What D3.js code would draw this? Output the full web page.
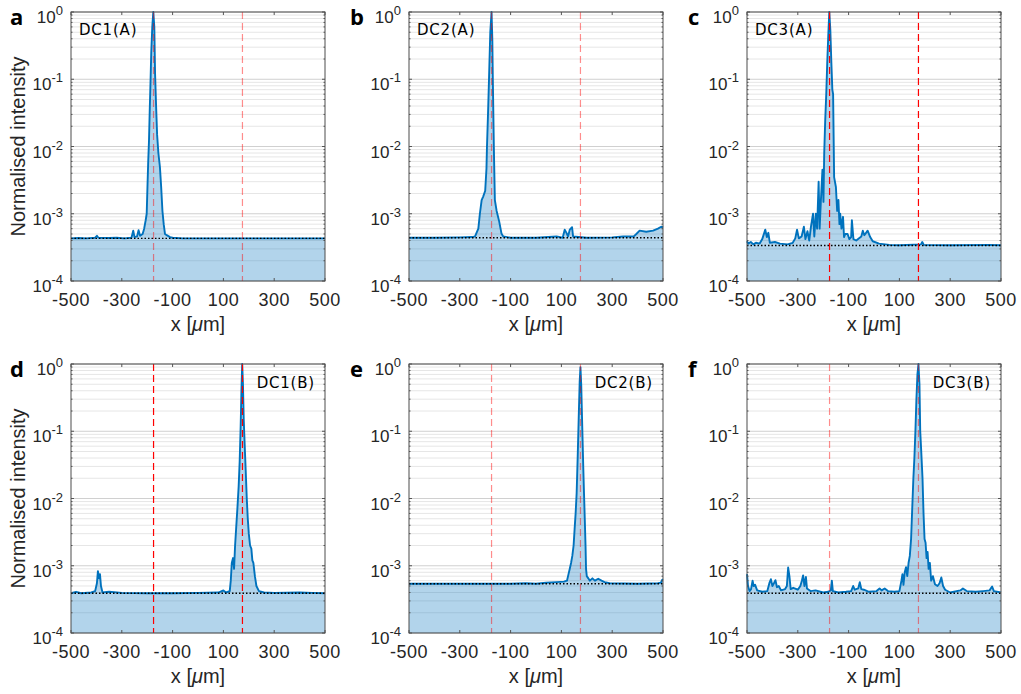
<!DOCTYPE html>
<html>
<head>
<meta charset="utf-8">
<title>Normalised intensity</title>
<script src="https://cdn.jsdelivr.net/npm/d3@7"></script>
<style>
body { margin: 0; background: #fff; }
text { font-family: "Liberation Sans", Arial, sans-serif; }
</style>
</head>
<body>
<svg id="fig" width="1021" height="694"></svg>
<script>
// profiles: [x (um), normalised intensity]
const dc1A = [[-500,4.3e-4],[-470,4.35e-4],[-440,4.3e-4],[-405,4.4e-4],[-398,4.7e-4],[-392,4.4e-4],[-350,4.35e-4],[-320,4.4e-4],[-290,4.3e-4],[-262,4.4e-4],[-255,5.6e-4],[-250,4.5e-4],[-240,4.6e-4],[-234,5.7e-4],[-228,4.7e-4],[-218,5.0e-4],[-212,6.0e-4],[-206,8e-4],[-202,1.0e-3],[-199,2.5e-3],[-196,6e-3],[-193,1.2e-2],[-190,3.5e-2],[-187,0.09],[-184,0.25],[-180,0.6],[-176,1.0],[-172,0.6],[-169,0.12],[-165,0.04],[-161,0.015],[-156,8e-3],[-150,5e-3],[-145,2.5e-3],[-140,1.1e-3],[-135,7e-4],[-130,5.0e-4],[-123,4.8e-4],[-110,4.5e-4],[-100,4.4e-4],[-60,4.3e-4],[0,4.3e-4],[100,4.3e-4],[200,4.3e-4],[300,4.3e-4],[400,4.3e-4],[500,4.3e-4]];
const dc2A = [[-500,4.4e-4],[-400,4.4e-4],[-300,4.45e-4],[-250,4.5e-4],[-240,4.6e-4],[-227,6e-4],[-221,1.0e-3],[-214,1.6e-3],[-208,1.8e-3],[-200,2.2e-3],[-195,4.7e-3],[-193,1.0e-2],[-189,0.03],[-185,0.1],[-180,0.5],[-175,1.0],[-172,0.4],[-170,0.1],[-166,0.01],[-162,1.6e-3],[-155,1.1e-3],[-145,7.7e-4],[-136,5.1e-4],[-129,4.6e-4],[-100,4.4e-4],[0,4.4e-4],[81,4.6e-4],[105,4.4e-4],[113,5.8e-4],[120,5.2e-4],[126,4.6e-4],[133,5.8e-4],[142,6.3e-4],[146,4.6e-4],[200,4.4e-4],[300,4.45e-4],[343,4.6e-4],[385,4.6e-4],[395,5.0e-4],[408,5.6e-4],[434,5.4e-4],[461,5.6e-4],[480,6.0e-4],[493,6.4e-4],[500,6.3e-4]];
const dc3A = [[-500,3.9e-4],[-495,3.6e-4],[-485,3.8e-4],[-475,3.5e-4],[-465,3.7e-4],[-450,3.6e-4],[-440,4.2e-4],[-428,5.8e-4],[-422,4.5e-4],[-416,5.2e-4],[-410,3.7e-4],[-390,3.8e-4],[-370,3.6e-4],[-340,3.5e-4],[-320,3.7e-4],[-310,4.3e-4],[-303,5.8e-4],[-296,4.3e-4],[-285,4.6e-4],[-276,6.4e-4],[-270,4.2e-4],[-262,5.5e-4],[-255,4.0e-4],[-248,6.5e-4],[-240,1.0e-3],[-235,4.6e-4],[-229,1.0e-3],[-224,6e-4],[-218,3.0e-3],[-214,6e-4],[-209,1.6e-3],[-203,4.5e-3],[-199,1.5e-3],[-196,8e-3],[-192,2.5e-2],[-188,0.06],[-184,0.18],[-180,0.45],[-176,1.0],[-172,0.55],[-168,0.18],[-164,0.07],[-161,0.06],[-157,3.5e-3],[-150,2.5e-3],[-145,1.1e-3],[-140,1.6e-3],[-136,7e-4],[-133,1.0e-3],[-128,6e-4],[-122,9e-4],[-118,4.5e-4],[-113,5e-4],[-104,5e-4],[-97,4.2e-4],[-90,4.5e-4],[-87,8e-4],[-81,4.2e-4],[-70,4.0e-4],[-50,4.6e-4],[-44,5.6e-4],[-38,4.8e-4],[-25,5.6e-4],[-15,4.5e-4],[-5,3.9e-4],[20,3.6e-4],[60,3.45e-4],[100,3.4e-4],[185,3.5e-4],[190,3.8e-4],[196,3.45e-4],[300,3.4e-4],[450,3.45e-4],[500,3.4e-4]];
const dc1B = [[-500,3.9e-4],[-480,4.1e-4],[-460,3.9e-4],[-420,4.0e-4],[-405,4.2e-4],[-398,5.5e-4],[-394,8.3e-4],[-390,6.5e-4],[-386,7.5e-4],[-382,5e-4],[-376,4.0e-4],[-350,4.1e-4],[-300,3.95e-4],[-200,3.9e-4],[-100,3.9e-4],[0,3.95e-4],[80,4.0e-4],[100,4.3e-4],[110,4.0e-4],[125,4.2e-4],[129,6e-4],[133,1.1e-3],[138,1.3e-3],[142,9e-4],[146,2.0e-3],[150,3.5e-3],[155,7e-3],[160,1.5e-2],[164,3.5e-2],[168,0.12],[171,0.4],[174,1.0],[177,0.5],[180,0.15],[184,0.06],[188,0.025],[192,0.01],[196,5e-3],[200,3e-3],[205,2.0e-3],[210,1.8e-3],[214,1.2e-3],[218,1.1e-3],[224,7e-4],[230,5.0e-4],[240,4.2e-4],[260,4.0e-4],[300,3.95e-4],[400,4.0e-4],[450,3.95e-4],[500,3.9e-4]];
const dc2B = [[-500,5.4e-4],[-300,5.4e-4],[-100,5.4e-4],[-40,5.5e-4],[0,5.4e-4],[40,5.6e-4],[80,5.7e-4],[110,5.8e-4],[122,6.0e-4],[128,7.5e-4],[133,9e-4],[138,1.1e-3],[143,1.4e-3],[148,2.0e-3],[152,3.5e-3],[156,6e-3],[160,1.2e-2],[164,4e-2],[168,0.15],[172,0.55],[175,0.9],[178,0.5],[182,0.12],[186,0.03],[189,1.2e-2],[192,5e-3],[195,2.0e-3],[197,9e-4],[200,7e-4],[206,6.5e-4],[212,6e-4],[222,6.5e-4],[232,6.0e-4],[245,6.4e-4],[258,6.0e-4],[270,5.7e-4],[290,5.5e-4],[400,5.4e-4],[480,5.5e-4],[492,5.6e-4],[497,6.2e-4],[500,6.3e-4]];
const dc3B = [[-500,7.5e-4],[-496,5.0e-4],[-490,4.2e-4],[-484,4.5e-4],[-478,6.0e-4],[-474,5.0e-4],[-468,5.2e-4],[-460,4.3e-4],[-440,4.1e-4],[-420,4.2e-4],[-412,5.5e-4],[-406,6.3e-4],[-400,5.0e-4],[-394,5.5e-4],[-388,6.1e-4],[-382,4.8e-4],[-375,5.0e-4],[-366,4.3e-4],[-350,4.5e-4],[-343,5.0e-4],[-338,9.4e-4],[-333,7.0e-4],[-328,4.5e-4],[-318,4.7e-4],[-300,4.4e-4],[-290,5.0e-4],[-284,6.0e-4],[-279,7.2e-4],[-274,5.0e-4],[-268,6.8e-4],[-264,4.6e-4],[-250,4.2e-4],[-230,4.3e-4],[-200,4.0e-4],[-180,4.1e-4],[-170,4.3e-4],[-166,6.0e-4],[-162,4.2e-4],[-140,4.0e-4],[-110,4.1e-4],[-90,4.2e-4],[-82,5.0e-4],[-76,4.4e-4],[-62,4.6e-4],[-56,5.7e-4],[-50,4.5e-4],[-40,4.4e-4],[-20,4.1e-4],[10,4.2e-4],[22,4.6e-4],[30,4.3e-4],[42,4.6e-4],[55,4.2e-4],[80,4.1e-4],[100,4.2e-4],[108,6.0e-4],[112,7.5e-4],[116,5.2e-4],[121,8.0e-4],[126,9.5e-4],[131,7e-4],[136,1.1e-3],[141,1.4e-3],[146,2.5e-3],[151,8e-3],[155,2.0e-2],[159,0.04],[163,0.1],[167,0.3],[171,0.7],[175,1.0],[179,0.5],[182,0.1],[186,0.05],[191,0.02],[195,6e-3],[199,2.5e-3],[203,2.2e-3],[207,1.3e-3],[211,1.6e-3],[215,9e-4],[220,1.1e-3],[225,6e-4],[232,7e-4],[240,5.3e-4],[250,5.0e-4],[258,5.5e-4],[265,6.7e-4],[272,5e-4],[280,4.4e-4],[300,4.0e-4],[340,4.3e-4],[350,4.6e-4],[365,4.2e-4],[400,4.1e-4],[430,4.2e-4],[455,4.3e-4],[465,4.9e-4],[472,4.2e-4],[500,4.0e-4]];

const profiles = [dc1A, dc2A, dc3A, dc1B, dc2B, dc3B];
const panelLetters = ['a', 'b', 'c', 'd', 'e', 'f'];
const panelNames = ['DC1(A)', 'DC2(A)', 'DC3(A)', 'DC1(B)', 'DC2(B)', 'DC3(B)'];
const noiseFloor = [4.3e-4, 4.4e-4, 3.37e-4, 3.9e-4, 5.4e-4, 3.9e-4];
const markerPos = [-175, 175];
const markerAlpha = [0.45, 0.45, 1, 1, 0.45, 0.45];
const xTicks = [-500, -300, -100, 100, 300, 500];
const yTicks = [1e-4, 1e-3, 1e-2, 1e-1, 1];
const yExp = ['-4', '-3', '-2', '-1', '0'];

const colLeft = [71, 409, 747];
const rowTop = [12, 364];
const pw = 254;
const ph = 269;

const svg = d3.select('#fig');

for (let i = 0; i < 6; i++) {
  drawPanel(i);
}

function drawPanel(i) {
  let col = i % 3;
  let row = Math.floor(i / 3);
  let g = svg.append('g').attr('transform', 'translate(' + colLeft[col] + ',' + rowTop[row] + ')');

  let x = d3.scaleLinear().domain([-500, 500]).range([0, pw]);
  let y = d3.scaleLog().domain([1e-4, 1]).range([ph, 0]);

  // log grid, major and minor
  let gridVals = [];
  for (let d = -4; d < 0; d++) {
    for (let m = 1; m < 10; m++) gridVals.push(m * Math.pow(10, d));
  }
  gridVals.push(1);
  g.selectAll('.grid').data(gridVals).enter().append('line')
    .attr('x1', 0).attr('x2', pw)
    .attr('y1', d => y(d)).attr('y2', d => y(d))
    .style('stroke', d => yTicks.indexOf(d) >= 0 ? '#d0d0d0' : '#e6e6e6')
    .style('stroke-width', 1);

  let data = profiles[i];
  let area = d3.area()
    .x(d => x(d[0]))
    .y0(ph)
    .y1(d => y(d[1]));
  g.append('path')
    .attr('d', area(data))
    .style('fill', '#0072bd')
    .style('fill-opacity', 0.3);

  let line = d3.line()
    .x(d => x(d[0]))
    .y(d => y(d[1]));
  g.append('path')
    .attr('d', line(data))
    .style('fill', 'none')
    .style('stroke', '#0072bd')
    .style('stroke-width', 1.9)
    .style('stroke-linejoin', 'round');

  // noise floor
  g.append('line')
    .attr('x1', 0).attr('x2', pw)
    .attr('y1', y(noiseFloor[i])).attr('y2', y(noiseFloor[i]))
    .style('stroke', '#000')
    .style('stroke-width', 1.3)
    .style('stroke-dasharray', '1.5,2');

  // waveguide positions
  g.selectAll('.mark').data(markerPos).enter().append('line')
    .attr('x1', d => x(d)).attr('x2', d => x(d))
    .attr('y1', 0).attr('y2', ph)
    .style('stroke', '#ff0000')
    .style('stroke-width', 1.2)
    .style('stroke-dasharray', '7,4')
    .style('stroke-opacity', markerAlpha[i]);

  // ticks (inward)
  g.selectAll('.xt').data(xTicks).enter().append('line')
    .attr('x1', d => x(d)).attr('x2', d => x(d))
    .attr('y1', ph).attr('y2', ph - 3)
    .style('stroke', '#555');
  g.selectAll('.xtt').data(xTicks).enter().append('line')
    .attr('x1', d => x(d)).attr('x2', d => x(d))
    .attr('y1', 0).attr('y2', 3)
    .style('stroke', '#555');
  g.selectAll('.yt').data(gridVals).enter().append('line')
    .attr('x1', 0).attr('x2', d => yTicks.indexOf(d) >= 0 ? 3 : 1.5)
    .attr('y1', d => y(d)).attr('y2', d => y(d))
    .style('stroke', '#555');
  g.selectAll('.ytr').data(gridVals).enter().append('line')
    .attr('x1', pw).attr('x2', d => pw - (yTicks.indexOf(d) >= 0 ? 3 : 1.5))
    .attr('y1', d => y(d)).attr('y2', d => y(d))
    .style('stroke', '#555');

  g.append('rect')
    .attr('x', 0).attr('y', 0)
    .attr('width', pw).attr('height', ph)
    .style('fill', 'none')
    .style('stroke', '#4d4d4d')
    .style('stroke-width', 1);

  // tick labels
  g.selectAll('.xl').data(xTicks).enter().append('text')
    .attr('x', d => x(d))
    .attr('y', ph + 25)
    .attr('text-anchor', 'middle')
    .style('font-size', '18px')
    .style('letter-spacing', '0.5px')
    .style('fill', '#262626')
    .text(d => d);

  yTicks.forEach((v, k) => {
    let t = g.append('text')
      .attr('x', -8)
      .attr('y', y(v) + 11)
      .attr('text-anchor', 'end')
      .style('font-size', '17px')
      .style('fill', '#262626');
    t.append('tspan').text('10');
    t.append('tspan').attr('dy', -8).style('font-size', '13px').text(yExp[k]);
  });

  // axis titles
  let xl = g.append('text')
    .attr('x', pw / 2)
    .attr('y', ph + 50)
    .attr('text-anchor', 'middle')
    .style('font-size', '20px')
    .style('fill', '#262626');
  xl.append('tspan').text('x [');
  xl.append('tspan').style('font-style', 'italic').text('\u03bc');
  xl.append('tspan').text('m]');

  if (col === 0) {
    g.append('text')
      .attr('transform', 'translate(' + (-46) + ',' + (ph / 2) + ') rotate(-90)')
      .attr('text-anchor', 'middle')
      .style('font-size', '20px')
      .style('fill', '#262626')
      .text('Normalised intensity');
  }

  // panel name
  let isA = row === 0;
  g.append('text')
    .attr('x', isA ? 8 : pw - 10)
    .attr('y', isA ? 23 : 24)
    .attr('text-anchor', isA ? 'start' : 'end')
    .style('font-family', '"DejaVu Sans", sans-serif')
    .style('font-size', '15px')
    .style('letter-spacing', '0.8px')
    .style('fill', '#000')
    .text(panelNames[i]);

  // panel letter
  g.append('text')
    .attr('x', col === 0 ? -61 : -59)
    .attr('y', 13)
    .style('font-family', '"Open Sans", sans-serif')
    .style('font-weight', 'bold')
    .style('font-size', '22px')
    .style('fill', '#000')
    .text(panelLetters[i]);
}
</script>
</body>
</html>
